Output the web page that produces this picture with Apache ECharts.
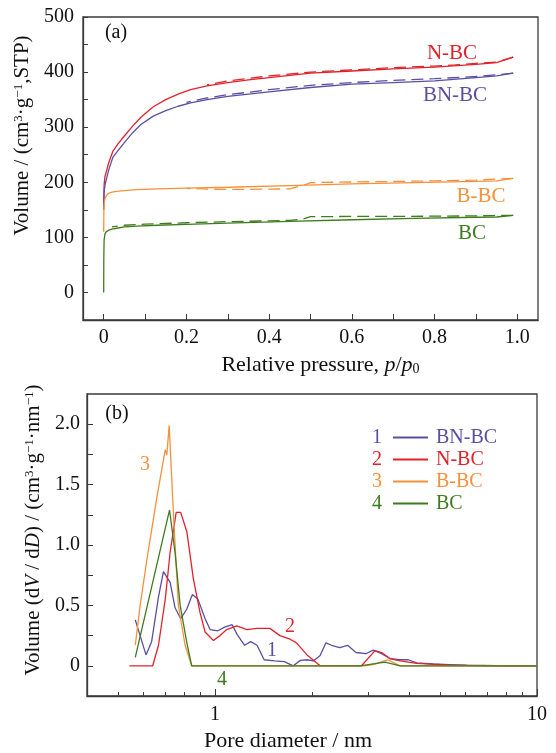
<!DOCTYPE html>
<html><head><meta charset="utf-8">
<script src="https://cdn.jsdelivr.net/npm/echarts@6/dist/echarts.min.js"></script>
<style>html,body{margin:0;padding:0;background:#fff}#c{width:556px;height:753px}</style>
</head><body><div id="c"></div>
<script>
// ---------- (a) N2 isotherms: relative pressure vs volume ----------
const pNBCAds  = [0, 0.001, 0.003, 0.006, 0.012, 0.022, 0.035, 0.05, 0.07, 0.09, 0.12, 0.15, 0.18, 0.21, 0.25, 0.3, 0.35, 0.4, 0.5, 0.6, 0.7, 0.8, 0.9, 0.95, 0.99];
const vNBCAds  = [160, 195, 210, 218, 235, 256, 270, 284, 302, 318, 337, 350, 360, 368, 375, 381, 386, 390, 398, 402, 406, 409, 414, 417, 427];
const pNBCDes  = [0.99, 0.95, 0.9, 0.85, 0.8, 0.7, 0.6, 0.5, 0.4, 0.3, 0.25];
const vNBCDes  = [427, 418, 416, 413, 411, 408, 404, 400, 393, 384, 377];

const pBNBCAds = [0, 0.001, 0.003, 0.006, 0.012, 0.022, 0.035, 0.05, 0.07, 0.09, 0.12, 0.15, 0.18, 0.21, 0.25, 0.3, 0.35, 0.4, 0.5, 0.6, 0.7, 0.8, 0.9, 0.95, 0.99];
const vBNBCAds = [150, 180, 195, 204, 222, 245, 258, 272, 290, 305, 320, 330, 338, 344, 350, 356, 360, 364, 372, 378, 381, 384, 390, 393, 398];
const pBNBCDes = [0.99, 0.95, 0.9, 0.8, 0.7, 0.6, 0.5, 0.4, 0.3, 0.25, 0.2];
const vBNBCDes = [398, 395, 392, 388, 385, 381, 376, 368, 359, 353, 345];

const pBBCAds  = [0, 0.0005, 0.002, 0.005, 0.01, 0.015, 0.03, 0.05, 0.08, 0.13, 0.2, 0.3, 0.45, 0.6, 0.75, 0.9, 0.95, 0.99];
const vBBCAds  = [110, 150, 167, 174, 179, 181, 183.5, 185, 186.5, 188, 189.5, 191, 194, 197, 199.5, 201.5, 202.5, 207];
const pBBCDes  = [0.99, 0.9, 0.8, 0.7, 0.6, 0.5, 0.485, 0.45, 0.4, 0.3, 0.25, 0.2];
const vBBCDes  = [207, 204, 202.5, 201.5, 200.5, 199.5, 195, 188, 187.5, 187, 187.5, 189];

const pBCAds   = [0, 0.0003, 0.001, 0.003, 0.006, 0.012, 0.02, 0.035, 0.05, 0.08, 0.13, 0.2, 0.3, 0.45, 0.6, 0.75, 0.9, 0.95, 0.99];
const vBCAds   = [0, 60, 95, 106, 110, 113, 115, 117, 119, 120.5, 122, 123.5, 126, 129, 132, 134.5, 136.5, 137, 140];
const pBCDes   = [0.99, 0.9, 0.8, 0.7, 0.6, 0.5, 0.48, 0.45, 0.4, 0.3, 0.2, 0.1, 0.05, 0.02];
const vBCDes   = [140, 139, 138.5, 138, 138, 137.5, 133, 131, 130, 128.5, 126.5, 124, 122, 119];

const pressureTicks  = [0, 0.1, 0.2, 0.3, 0.4, 0.5, 0.6, 0.7, 0.8, 0.9, 1.0];
const pressureLabels = [0, 0.2, 0.4, 0.6, 0.8, 1.0];
const volumeTicks    = [0, 50, 100, 150, 200, 250, 300, 350, 400, 450, 500];
const volumeLabels   = [0, 100, 200, 300, 400, 500];

// ---------- (b) pore size distribution ----------
const dBNBC = [0.565, 0.61, 0.635, 0.667, 0.691, 0.725, 0.751, 0.782, 0.817, 0.85, 0.885, 0.931, 0.965, 1.02, 1.07, 1.13, 1.17, 1.235, 1.29, 1.35, 1.42, 1.53, 1.64, 1.75, 1.84, 1.93, 2.02, 2.12, 2.21, 2.3, 2.44, 2.58, 2.74, 2.94, 3.1, 3.29, 3.49, 3.76, 3.98, 4.23, 4.76, 5.36, 6.04, 6.8, 8, 10];
const vBNBC = [0.38, 0.09, 0.2, 0.57, 0.78, 0.69, 0.48, 0.39, 0.47, 0.59, 0.55, 0.39, 0.30, 0.29, 0.32, 0.34, 0.26, 0.17, 0.20, 0.17, 0.05, 0.04, 0.035, 0.0, 0.045, 0.05, 0.04, 0.085, 0.19, 0.17, 0.15, 0.17, 0.11, 0.10, 0.13, 0.10, 0.06, 0.05, 0.05, 0.025, 0.015, 0.01, 0.005, 0.004, 0.0, 0.0];

const dNBC = [0.542, 0.64, 0.667, 0.70, 0.725, 0.757, 0.782, 0.817, 0.856, 0.898, 0.931, 0.988, 1.036, 1.087, 1.168, 1.254, 1.347, 1.48, 1.59, 1.71, 1.79, 1.93, 2.12, 2.5, 2.85, 3.14, 3.29, 3.49, 3.76, 4.23, 5.36, 7, 10];
const vNBC = [0, 0, 0.17, 0.55, 0.94, 1.27, 1.27, 1.11, 0.72, 0.44, 0.28, 0.21, 0.25, 0.30, 0.33, 0.30, 0.31, 0.31, 0.25, 0.22, 0.19, 0.09, 0, 0, 0, 0.126, 0.11, 0.06, 0.04, 0.02, 0.005, 0, 0];

const dBBC = [0.565, 0.585, 0.614, 0.659, 0.70, 0.708, 0.72, 0.742, 0.769, 0.807, 0.846, 1, 2, 2.9, 3.1, 3.43, 3.76, 5, 10];
const vBBC = [0.17, 0.50, 0.88, 1.39, 1.79, 1.745, 1.99, 1.265, 0.50, 0.17, 0, 0, 0, 0, 0.01, 0.05, 0, 0, 0];

const dBC = [0.565, 0.722, 0.751, 0.779, 0.817, 0.846, 1, 2, 2.82, 3.37, 3.76, 5, 10];
const vBC = [0.07, 1.29, 0.935, 0.5, 0.19, 0, 0, 0, 0, 0.03, 0, 0, 0];

const diamMajorTicks = [1, 10];
const diamMinorTicks = [0.5, 0.6, 0.7, 0.8, 0.9, 2, 3, 4, 5, 6, 7, 8, 9];
const psdTicks  = [0, 0.25, 0.5, 0.75, 1.0, 1.25, 1.5, 1.75, 2.0];
const psdLabels = [0, 0.5, 1.0, 1.5, 2.0];

const sampleNames  = ['BN-BC', 'N-BC', 'B-BC', 'BC'];
const sampleNums   = ['1', '2', '3', '4'];

// ---------- styling ----------
const C = { purple: '#5b4fa2', red: '#e1222b', orange: '#f5913b', green: '#3e7c1f' };
const FONT = "'Liberation Serif','Times New Roman',serif";
const AX = '#3a3a3a';
const zip = (xs, ys) => xs.map((x, i) => [x, ys[i]]);

const lineSeries = (name, data, color, xi, yi, dashed) => ({
  type: 'line', name, data, xAxisIndex: xi, yAxisIndex: yi,
  symbol: 'none', showSymbol: false, animation: false, silent: true,
  itemStyle: { color },
  lineStyle: { color, width: 1.3, type: dashed ? [12, 6] : 'solid' }
});

const baseLabel = { fontFamily: FONT, fontSize: 20, color: '#111' };
const richStyles = (size) => ({
  sup: { fontFamily: FONT, fontSize: 13, verticalAlign: 'top', color: '#111' },
  sub: { fontFamily: FONT, fontSize: 14, verticalAlign: 'bottom', color: '#111' },
  i:   { fontFamily: FONT, fontSize: size, fontStyle: 'italic', color: '#111' }
});
const nameStyle = (size, padding) => ({ fontFamily: FONT, fontSize: size, color: '#111', padding, rich: richStyles(size) });

const chart = echarts.init(document.getElementById('c'), null, { renderer: 'canvas' });

const txt = (text, x, y, color, size) => ({
  type: 'text', x, y, silent: true,
  style: { text, fill: color, font: `${size || 20}px ${FONT}`, fontFamily: FONT, fontSize: size || 20,
           align: 'center', verticalAlign: 'middle', textAlign: 'center', textVerticalAlign: 'middle' }
});

const option = {
  animation: false,
  backgroundColor: '#fff',
  grid: [
    { left: 83, top: 17, width: 455, height: 303, show: true, borderColor: AX, borderWidth: 1.3, backgroundColor: 'transparent' },
    { left: 87, top: 394, width: 450, height: 302, show: true, borderColor: AX, borderWidth: 1.3, backgroundColor: 'transparent' }
  ],
  xAxis: [
    {
      gridIndex: 0, type: 'value', min: -0.05, max: 1.05,
      name: 'Relative pressure, {i|p}/{i|p}{sub|0}', nameLocation: 'middle', nameGap: 34,
      nameTextStyle: nameStyle(22, [0, 0, 0, 20]),
      axisLine: { show: true, onZero: false, lineStyle: { color: AX, width: 1.3 } },
      axisTick: { show: true, inside: true, length: 6, customValues: pressureTicks, lineStyle: { color: AX, width: 1 } },
      axisLabel: Object.assign({}, baseLabel, { margin: 8, customValues: pressureLabels,
        formatter: v => (Math.abs(v) < 1e-9 ? '0' : v.toFixed(1)) }),
      splitLine: { show: false }
    },
    {
      gridIndex: 1, type: 'log', logBase: 10, min: 0.4, max: 10,
      name: 'Pore diameter / nm', nameLocation: 'middle', nameGap: 34,
      nameTextStyle: nameStyle(22, [0, 48, 0, 0]),
      axisLine: { show: true, onZero: false, lineStyle: { color: AX, width: 1.3 } },
      axisTick: { show: true, inside: true, length: 7, customValues: diamMajorTicks, lineStyle: { color: AX, width: 1 } },
      axisLabel: Object.assign({}, baseLabel, { margin: 9, customValues: diamMajorTicks, formatter: v => String(Math.round(v)) }),
      splitLine: { show: false }
    },
    {
      gridIndex: 1, type: 'log', logBase: 10, min: 0.4, max: 10, position: 'bottom',
      axisLine: { show: false, onZero: false },
      axisTick: { show: true, inside: true, length: 4, customValues: diamMinorTicks, lineStyle: { color: AX, width: 1 } },
      axisLabel: { show: false },
      splitLine: { show: false }
    }
  ],
  yAxis: [
    {
      gridIndex: 0, type: 'value', min: -50, max: 500,
      name: 'Volume / (cm{sup|3}·g{sup|−1},STP)', nameLocation: 'middle', nameGap: 44,
      nameTextStyle: nameStyle(21, [0, 0, 0, 66]),
      axisLine: { show: true, onZero: false, lineStyle: { color: AX, width: 1.3 } },
      axisTick: { show: true, inside: true, length: 5, customValues: volumeTicks, lineStyle: { color: AX, width: 1 } },
      axisLabel: Object.assign({}, baseLabel, { margin: 9, customValues: volumeLabels }),
      splitLine: { show: false }
    },
    {
      gridIndex: 1, type: 'value', min: -0.25, max: 2.25,
      name: 'Volume (d{i|V} / d{i|D}) / (cm{sup|3}·g{sup|−1}·nm{sup|−1})', nameLocation: 'middle', nameGap: 41,
      nameTextStyle: nameStyle(21, [0, 0, 0, 30]),
      axisLine: { show: true, onZero: false, lineStyle: { color: AX, width: 1.3 } },
      axisTick: { show: true, inside: true, length: 6, customValues: psdTicks, lineStyle: { color: AX, width: 1 } },
      axisLabel: Object.assign({}, baseLabel, { margin: 7, customValues: psdLabels,
        formatter: v => (Math.abs(v) < 1e-9 ? '0' : v.toFixed(1)) }),
      splitLine: { show: false }
    }
  ],
  legend: {
    orient: 'vertical', left: 392, top: 427.5, padding: 0, itemGap: 2,
    itemWidth: 35, itemHeight: 14, selectedMode: false,
    itemStyle: { opacity: 0, borderWidth: 0 },
    textStyle: { fontFamily: FONT, fontSize: 20, lineHeight: 20, padding: [0, 0, 0, 3] },
    data: [
      { name: sampleNames[0], textStyle: { color: C.purple } },
      { name: sampleNames[1], textStyle: { color: C.red } },
      { name: sampleNames[2], textStyle: { color: C.orange } },
      { name: sampleNames[3], textStyle: { color: C.green } }
    ]
  },
  graphic: [
    txt('(a)', 116, 33, '#111'),
    txt('N-BC', 452, 53, C.red, 21),
    txt('BN-BC', 455, 95, C.purple, 21),
    txt('B-BC', 481, 196, C.orange, 21),
    txt('BC', 472, 233, C.green, 21),
    txt('(b)', 117, 414, '#111'),
    txt('3', 145, 465, C.orange),
    txt('2', 290, 627, C.red),
    txt('1', 272, 651, C.purple),
    txt('4', 222, 680, C.green),
    txt(sampleNums[0], 377, 437.5, C.purple),
    txt(sampleNums[1], 377, 459.5, C.red),
    txt(sampleNums[2], 377, 481.5, C.orange),
    txt(sampleNums[3], 377, 503.5, C.green)
  ],
  series: [
    lineSeries('N-BC adsorption', zip(pNBCAds, vNBCAds), C.red, 0, 0, false),
    lineSeries('N-BC desorption', zip(pNBCDes, vNBCDes), C.red, 0, 0, true),
    lineSeries('BN-BC adsorption', zip(pBNBCAds, vBNBCAds), C.purple, 0, 0, false),
    lineSeries('BN-BC desorption', zip(pBNBCDes, vBNBCDes), C.purple, 0, 0, true),
    lineSeries('B-BC adsorption', zip(pBBCAds, vBBCAds), C.orange, 0, 0, false),
    lineSeries('B-BC desorption', zip(pBBCDes, vBBCDes), C.orange, 0, 0, true),
    lineSeries('BC adsorption', zip(pBCAds, vBCAds), C.green, 0, 0, false),
    lineSeries('BC desorption', zip(pBCDes, vBCDes), C.green, 0, 0, true),
    lineSeries(sampleNames[0], zip(dBNBC, vBNBC), C.purple, 1, 1, false),
    lineSeries(sampleNames[1], zip(dNBC, vNBC), C.red, 1, 1, false),
    lineSeries(sampleNames[2], zip(dBBC, vBBC), C.orange, 1, 1, false),
    lineSeries(sampleNames[3], zip(dBC, vBC), C.green, 1, 1, false)
  ]
};
chart.setOption(option);
</script>
</body></html>
